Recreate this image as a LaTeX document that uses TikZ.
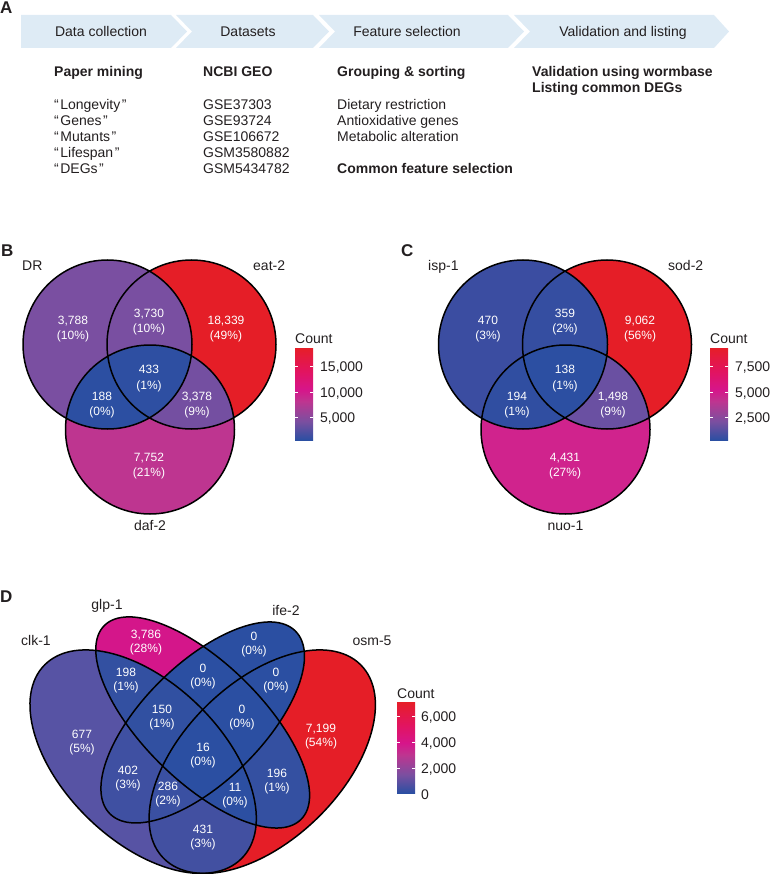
\documentclass[tikz,border=0pt]{standalone}
\usepackage{fontspec}
\setmainfont{Liberation Sans}
\definecolor{txt}{HTML}{231F20}
\definecolor{chev}{HTML}{DEEBF5}
\definecolor{cb0}{HTML}{2B4FA2}
\definecolor{cb1}{HTML}{7A4FA0}
\definecolor{cb2}{HTML}{BE3590}
\definecolor{cb3}{HTML}{D6158A}
\definecolor{cb4}{HTML}{E2145F}
\definecolor{cb5}{HTML}{E61E28}
\pgfdeclareverticalshading{countbar}{100bp}{color(0bp)=(cb0); color(25bp)=(cb0); color(35bp)=(cb1); color(46bp)=(cb2); color(52.5bp)=(cb3); color(62.5bp)=(cb4); color(75bp)=(cb5); color(100bp)=(cb5)}
% region colours
\definecolor{vblue}{HTML}{2B4FA2}
\definecolor{vred}{HTML}{E51E27}
\definecolor{bDR}{HTML}{7A4FA1}
\definecolor{bDaf}{HTML}{BE3590}
\definecolor{bDE}{HTML}{794FA1}
\definecolor{bDD}{HTML}{2C4FA2}
\definecolor{bED}{HTML}{744FA1}
\definecolor{bAll}{HTML}{2E4FA2}
\definecolor{cIsp}{HTML}{3B4DA1}
\definecolor{cNuo}{HTML}{D0238D}
\definecolor{cIS}{HTML}{354EA1}
\definecolor{cIN}{HTML}{304EA1}
\definecolor{cSN}{HTML}{6A50A2}
\definecolor{cAll}{HTML}{2C4FA2}
\definecolor{dA}{HTML}{5753A4}
\definecolor{dB}{HTML}{D4168A}
\definecolor{dAB}{HTML}{3350A1}
\definecolor{dAC}{HTML}{3F50A2}
\definecolor{dAD}{HTML}{4250A1}
\definecolor{dBD}{HTML}{3450A1}
\definecolor{dABC}{HTML}{3150A1}
\definecolor{dACD}{HTML}{3A50A2}
\definecolor{dABD}{HTML}{2C4FA2}
\tikzset{
  lbl/.style={font=\fontsize{14}{16}\selectfont, text=txt, inner sep=0pt},
  blbl/.style={font=\fontsize{14}{16}\selectfont\bfseries, text=txt, inner sep=0pt},
  panel/.style={font=\fontsize{17}{20}\selectfont\bfseries, text=txt, inner sep=0pt, anchor=base west},
  num/.style={font=\fontsize{12}{15.5}\selectfont, text=white, align=center, inner sep=0pt},
  numd/.style={font=\fontsize{12}{14}\selectfont, text=white, align=center, inner sep=0pt},
  venn/.style={draw=black, line width=1.5pt},
  chevron/.style={fill=chev, draw=none},
  cbtick/.style={draw=white, line width=0.7pt},
  tA/.style={shift={(0.35,0.47)}, rotate=135},
  tB/.style={shift={(0.50,0.57)}, rotate=135},
  tC/.style={shift={(0.50,0.57)}, rotate=45},
  tD/.style={shift={(0.65,0.47)}, rotate=45},
}
\def\qo{“\kern1.5pt}
\def\qc{\kern1.5pt”}
\def\cDR{(107.5,344.5) circle [radius=84.5pt]}
\def\cEat{(191.5,344.5) circle [radius=84.5pt]}
\def\cDaf{(150,429.5) circle [radius=84.5pt]}
\def\cIsp{(523,344.5) circle [radius=84.5pt]}
\def\cSod{(607,344.5) circle [radius=84.5pt]}
\def\cNuo{(565.5,429.5) circle [radius=84.5pt]}
\def\EA{(0,0) ellipse [x radius=0.35, y radius=0.2]}
\def\EB{(0,0) ellipse [x radius=0.35, y radius=0.15]}
\def\EC{(0,0) ellipse [x radius=0.33, y radius=0.15]}
\def\ED{(0,0) ellipse [x radius=0.35, y radius=0.2]}
\begin{document}
\begin{tikzpicture}[x=1pt, y=-1pt]
\useasboundingbox (0,0) rectangle (770,874);

% ---------------- Panel A ----------------
\node[panel] (pA) at (0,13.5) {A};
\fill[chevron] (21,15) -- (171,15) -- (187,31.5) -- (171,48) -- (21,48) -- cycle;
\fill[chevron] (176,15) -- (313,15) -- (329,31.5) -- (313,48) -- (176,48) -- (192,31.5) -- cycle;
\fill[chevron] (319,15) -- (508,15) -- (524,31.5) -- (508,48) -- (319,48) -- (335,31.5) -- cycle;
\fill[chevron] (514,15) -- (714,15) -- (729,31.5) -- (714,48) -- (514,48) -- (530,31.5) -- cycle;
\node[lbl, anchor=base] (s1) at (101,36.5) {Data collection};
\node[lbl, anchor=base] (s2) at (248,36.5) {Datasets};
\node[lbl, anchor=base] (s3) at (407,36.5) {Feature selection};
\node[lbl, anchor=base] (s4) at (623,36.5) {Validation and listing};

\node[blbl, anchor=base west] (h1) at (54,77) {Paper mining};
\node[lbl, anchor=base west] (k1) at (54,110) {\qo Longevity\qc};
\node[lbl, anchor=base west] (k2) at (54,126) {\qo Genes\qc};
\node[lbl, anchor=base west] (k3) at (54,142) {\qo Mutants\qc};
\node[lbl, anchor=base west] (k4) at (54,158) {\qo Lifespan\qc};
\node[lbl, anchor=base west] (k5) at (54,174) {\qo DEGs\qc};

\node[blbl, anchor=base west] (h2) at (203,77) {NCBI GEO};
\node[lbl, anchor=base west] (g1) at (203,110) {GSE37303};
\node[lbl, anchor=base west] (g2) at (203,126) {GSE93724};
\node[lbl, anchor=base west] (g3) at (203,142) {GSE106672};
\node[lbl, anchor=base west] (g4) at (203,158) {GSM3580882};
\node[lbl, anchor=base west] (g5) at (203,174) {GSM5434782};

\node[blbl, anchor=base west] (h3) at (337,77) {Grouping \& sorting};
\node[lbl, anchor=base west] (f1) at (337,110) {Dietary restriction};
\node[lbl, anchor=base west] (f2) at (337,126) {Antioxidative genes};
\node[lbl, anchor=base west] (f3) at (337,142) {Metabolic alteration};
\node[blbl, anchor=base west] (f4) at (337,174) {Common feature selection};

\node[blbl, anchor=base west] (h4) at (532,77) {Validation using wormbase};
\node[blbl, anchor=base west] (h5) at (532,93) {Listing common DEGs};

% ---------------- Panel B ----------------
\node[panel] (pB) at (1,256.5) {B};
\fill[bDR] \cDR;
\fill[vred] \cEat;
\fill[bDaf] \cDaf;
\begin{scope}\clip \cDR; \fill[bDE] \cEat; \end{scope}
\begin{scope}\clip \cDR; \fill[bDD] \cDaf; \end{scope}
\begin{scope}\clip \cEat; \fill[bED] \cDaf; \end{scope}
\begin{scope}\clip \cDR; \clip \cEat; \fill[bAll] \cDaf; \end{scope}
\draw[venn] \cDR \cEat \cDaf;
\node[lbl, anchor=base west] (nDR) at (22,270) {DR};
\node[lbl, anchor=base west] (nEat) at (253,270) {eat-2};
\node[lbl, anchor=base] (nDaf) at (150,530) {daf-2};
\node[num] (b1) at (73,329) {3,788\\(10\%)};
\node[num] (b2) at (149,322) {3,730\\(10\%)};
\node[num] (b3) at (226,329) {18,339\\(49\%)};
\node[num] (b4) at (149,378.5) {433\\(1\%)};
\node[num] (b5) at (102,405) {188\\(0\%)};
\node[num] (b6) at (197,405) {3,378\\(9\%)};
\node[num] (b7) at (149,466) {7,752\\(21\%)};
% legend B
\node[lbl, anchor=base west] (lgB) at (295,343) {Count};
\shade[shading=countbar] (295,348) rectangle (313,440);
\foreach \yy in {366,392,417} {
  \draw[cbtick] (295,\yy) -- (298,\yy);
  \draw[cbtick] (310,\yy) -- (313,\yy);
}
\node[lbl, anchor=base west] (tB1) at (320,371) {15,000};
\node[lbl, anchor=base west] (tB2) at (320,397) {10,000};
\node[lbl, anchor=base west] (tB3) at (320,422) {5,000};

% ---------------- Panel C ----------------
\node[panel] (pC) at (401,257) {C};
\fill[cIsp] \cIsp;
\fill[vred] \cSod;
\fill[cNuo] \cNuo;
\begin{scope}\clip \cIsp; \fill[cIS] \cSod; \end{scope}
\begin{scope}\clip \cIsp; \fill[cIN] \cNuo; \end{scope}
\begin{scope}\clip \cSod; \fill[cSN] \cNuo; \end{scope}
\begin{scope}\clip \cIsp; \clip \cSod; \fill[cAll] \cNuo; \end{scope}
\draw[venn] \cIsp \cSod \cNuo;
\node[lbl, anchor=base west] (nIsp) at (428,270) {isp-1};
\node[lbl, anchor=base west] (nSod) at (668,270) {sod-2};
\node[lbl, anchor=base] (nNuo) at (565.5,530) {nuo-1};
\node[num] (c1) at (488,329) {470\\(3\%)};
\node[num] (c2) at (565,322) {359\\(2\%)};
\node[num] (c3) at (640,329) {9,062\\(56\%)};
\node[num] (c4) at (565,378.5) {138\\(1\%)};
\node[num] (c5) at (517,405) {194\\(1\%)};
\node[num] (c6) at (613,405) {1,498\\(9\%)};
\node[num] (c7) at (565,466) {4,431\\(27\%)};
% legend C
\node[lbl, anchor=base west] (lgC) at (710,343) {Count};
\shade[shading=countbar] (710,348) rectangle (728,440);
\foreach \yy in {366,392,417} {
  \draw[cbtick] (710,\yy) -- (713,\yy);
  \draw[cbtick] (725,\yy) -- (728,\yy);
}
\node[lbl, anchor=base west] (tC1) at (735,371) {7,500};
\node[lbl, anchor=base west] (tC2) at (735,397) {5,000};
\node[lbl, anchor=base west] (tC3) at (735,422) {2,500};

% ---------------- Panel D ----------------
\node[panel] (pD) at (0,602) {D};
\begin{scope}[shift={(4.2,945.9)}, x=1pt, y=1pt, xscale=397, yscale=392]
  % single sets
  \fill[dA, tA] \EA;
  \fill[dB, tB] \EB;
  \fill[vblue, tC] \EC;
  \fill[vred, tD] \ED;
  % pairs
  \begin{scope}\clip[tA] \EA; \fill[dAB, tB] \EB; \end{scope}
  \begin{scope}\clip[tA] \EA; \fill[dAC, tC] \EC; \end{scope}
  \begin{scope}\clip[tA] \EA; \fill[dAD, tD] \ED; \end{scope}
  \begin{scope}\clip[tB] \EB; \fill[vblue, tC] \EC; \end{scope}
  \begin{scope}\clip[tB] \EB; \fill[dBD, tD] \ED; \end{scope}
  \begin{scope}\clip[tC] \EC; \fill[vblue, tD] \ED; \end{scope}
  % triples
  \begin{scope}\clip[tA] \EA; \clip[tB] \EB; \fill[dABC, tC] \EC; \end{scope}
  \begin{scope}\clip[tA] \EA; \clip[tB] \EB; \fill[dABD, tD] \ED; \end{scope}
  \begin{scope}\clip[tA] \EA; \clip[tC] \EC; \fill[dACD, tD] \ED; \end{scope}
  \begin{scope}\clip[tB] \EB; \clip[tC] \EC; \fill[vblue, tD] \ED; \end{scope}
  % all four
  \begin{scope}\clip[tA] \EA; \clip[tB] \EB; \clip[tC] \EC; \fill[vblue, tD] \ED; \end{scope}
  % outlines
  \draw[venn, tA] \EA;
  \draw[venn, tB] \EB;
  \draw[venn, tC] \EC;
  \draw[venn, tD] \ED;
\end{scope}
\node[lbl, anchor=base] (nGlp) at (107,609) {glp-1};
\node[lbl, anchor=base] (nIfe) at (286,615) {ife-2};
\node[lbl, anchor=base] (nClk) at (36,645) {clk-1};
\node[lbl, anchor=base] (nOsm) at (372,645) {osm-5};
\node[numd] (d1) at (146,643) {3,786\\(28\%)};
\node[numd] (d2) at (254,645) {0\\(0\%)};
\node[numd] (d3) at (126,681) {198\\(1\%)};
\node[numd] (d4) at (203,676.5) {0\\(0\%)};
\node[numd] (d5) at (276,681) {0\\(0\%)};
\node[numd] (d6) at (162,718) {150\\(1\%)};
\node[numd] (d7) at (242,718) {0\\(0\%)};
\node[numd] (d8) at (82,742.5) {677\\(5\%)};
\node[numd] (d9) at (321,737) {7,199\\(54\%)};
\node[numd] (d10) at (203,756) {16\\(0\%)};
\node[numd] (d11) at (128,779) {402\\(3\%)};
\node[numd] (d12) at (277,782) {196\\(1\%)};
\node[numd] (d13) at (168,795) {286\\(2\%)};
\node[numd] (d14) at (235,796) {11\\(0\%)};
\node[numd] (d15) at (203,838) {431\\(3\%)};
% legend D
\node[lbl, anchor=base west] (lgD) at (397,698) {Count};
\shade[shading=countbar] (397,702) rectangle (415,793);
\foreach \yy in {716,742,768} {
  \draw[cbtick] (397,\yy) -- (400,\yy);
  \draw[cbtick] (412,\yy) -- (415,\yy);
}
\node[lbl, anchor=base west] (tD1) at (421,721) {6,000};
\node[lbl, anchor=base west] (tD2) at (421,747) {4,000};
\node[lbl, anchor=base west] (tD3) at (421,773) {2,000};
\node[lbl, anchor=base west] (tD4) at (421,799) {0};
\end{tikzpicture}
\end{document}
